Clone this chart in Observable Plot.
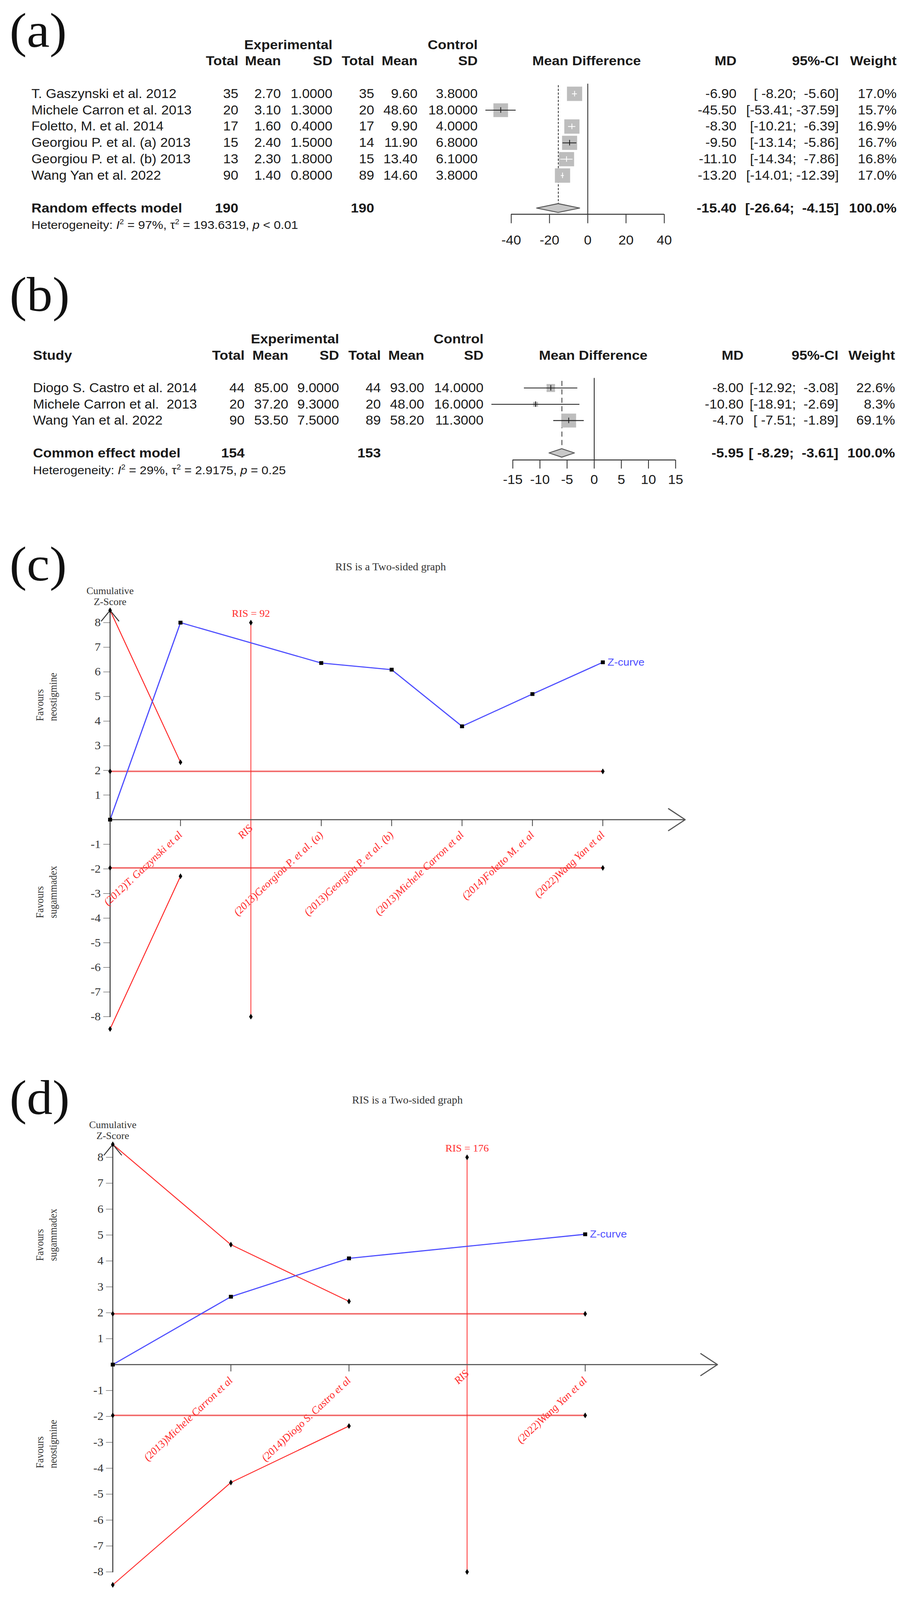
<!DOCTYPE html>
<html><head><meta charset="utf-8">
<script src="https://cdn.jsdelivr.net/npm/d3@7"></script>
<script src="https://cdn.jsdelivr.net/npm/@observablehq/plot@0.6"></script>
<style>
html,body{margin:0;padding:0;background:#fff;overflow:hidden;}
#page{position:relative;width:2336px;height:4357px;background:#fff;transform-origin:0 0;}
svg text{white-space:pre;}
</style></head>
<body><div id="page"></div>
<script>
// ---------------- DATA ----------------
// (a) forest plot
const studiesA = ["T. Gaszynski et al. 2012", "Michele Carron et al. 2013", "Foletto, M. et al. 2014", "Georgiou P. et al. (a) 2013", "Georgiou P. et al. (b) 2013", "Wang Yan et al. 2022"];
const expTotalA = [35, 20, 17, 15, 13, 90];
const expMeanA = [2.70, 3.10, 1.60, 2.40, 2.30, 1.40];
const expSdA = [1.0, 1.3, 0.4, 1.5, 1.8, 0.8];
const ctrlTotalA = [35, 20, 17, 14, 15, 89];
const ctrlMeanA = [9.60, 48.60, 9.90, 11.90, 13.40, 14.60];
const ctrlSdA = [3.8, 18.0, 4.0, 6.8, 6.1, 3.8];
const mdA = [-6.90, -45.50, -8.30, -9.50, -11.10, -13.20];
const ciLowA = [-8.20, -53.41, -10.21, -13.14, -14.34, -14.01];
const ciHighA = [-5.60, -37.59, -6.39, -5.86, -7.86, -12.39];
const weightA = [17.0, 15.7, 16.9, 16.7, 16.8, 17.0];
const modelLabelA = "Random effects model";
const modelTotalsA = [190, 190];
const modelEstA = [-15.40, -26.64, -4.15];   // MD, low, high
const modelWeightA = 100.0;
const hetA = ["97%", "193.6319", "< 0.01"];
const axisTicksA = [-40, -20, 0, 20, 40];

// (b) forest plot
const studiesB = ["Diogo S. Castro et al. 2014", "Michele Carron et al.  2013", "Wang Yan et al. 2022"];
const expTotalB = [44, 20, 90];
const expMeanB = [85.00, 37.20, 53.50];
const expSdB = [9.0, 9.3, 7.5];
const ctrlTotalB = [44, 20, 89];
const ctrlMeanB = [93.00, 48.00, 58.20];
const ctrlSdB = [14.0, 16.0, 11.3];
const mdB = [-8.00, -10.80, -4.70];
const ciLowB = [-12.92, -18.91, -7.51];
const ciHighB = [-3.08, -2.69, -1.89];
const weightB = [22.6, 8.3, 69.1];
const modelLabelB = "Common effect model";
const modelTotalsB = [154, 153];
const modelEstB = [-5.95, -8.29, -3.61];
const modelWeightB = 100.0;
const hetB = ["29%", "2.9175", "= 0.25"];
const axisTicksB = [-15, -10, -5, 0, 5, 10, 15];

const colHeaders = ["Total", "Mean", "SD"];

// (c) TSA
const labelsC = ["(2012)T. Gaszynski et al", "RIS", "(2013)Georgiou P. et al. (a)", "(2013)Georgiou P. et al. (b)", "(2013)Michele Carron et al", "(2014)Foletto M. et al", "(2022)Wang Yan et al"];
const labelPosC = [1, 2, 3, 4, 5, 6, 7];
const zPosC = [0, 1, 3, 4, 5, 6, 7];
const zValC = [0, 8.0, 6.36, 6.09, 3.79, 5.10, 6.39];
const bPosC = [0, 1];
const bUpC = [8.5, 2.33];
const bLoC = [-8.5, -2.3];
const risPosC = 2;
const risLabelC = "RIS = 92";
const convEndC = 7;

// (d) TSA
const labelsD = ["(2013)Michele Carron et al", "(2014)Diogo S. Castro et al", "RIS", "(2022)Wang Yan et al"];
const labelPosD = [1, 2, 3, 4];
const zPosD = [0, 1, 2, 4];
const zValD = [0, 2.62, 4.10, 5.03];
const bPosD = [0, 1, 2];
const bUpD = [8.5, 4.63, 2.44];
const bLoD = [-8.5, -4.55, -2.37];
const risPosD = 3;
const risLabelD = "RIS = 176";
const convEndD = 4;

const yTicksTSA = [-8, -7, -6, -5, -4, -3, -2, -1, 1, 2, 3, 4, 5, 6, 7, 8];
const convZ = 1.96;
const risZ = 8;
const tsaTitle = "RIS is a Two-sided graph";
const cumLabel = "Cumulative\nZ-Score";
const favNeo = "Favours\nneostigmine";
const favSug = "Favours\nsugammadex";
const panelLabels = ["(a)", "(b)", "(c)", "(d)"];

// ---------------- STYLE / LAYOUT ----------------
const W = 2336, H = 4357;
const SANS = "'Liberation Sans', Arial, Helvetica, sans-serif";
const SERIF = "'Liberation Serif', 'Times New Roman', Times, serif";
const INK = "#1a1a1a";
const RED = "#ff2b2b";
const BLUE = "#4d4dff";
const page = document.getElementById("page");
const NS = "http://www.w3.org/2000/svg";

function place(el, top) {
  el.style.position = "absolute"; el.style.left = "0px"; el.style.top = top + "px";
  page.appendChild(el);
}
const pad6 = v => v.toFixed(2).padStart(6, " ");

// text positioned in page pixels (x, baseline) inside a panel's SVG
function pageText(label, px, baseline, top, ML, MT, style) {
  return Plot.text([label], {frameAnchor: "top-left", dx: px - ML, dy: baseline - top - MT,
    lineAnchor: "bottom", text: d => d, ...style});
}
const panelLabelStyle = {fontFamily: SERIF, fontSize: 132, fill: "#111", textAnchor: "start"};
const titleStyle = {fontFamily: SERIF, fontSize: 28, fill: "#333", textAnchor: "middle"};

function hetRich(svg, fs) {
  for (const t of svg.querySelectorAll("text")) {
    const s = t.textContent;
    const m = s.match(/^Heterogeneity: I\^2 = (.*), tau\^2 = (.*), p (.*)$/);
    if (!m) continue;
    const up = Math.round(fs * 0.42);
    t.textContent = "";
    const add = (txt, attrs = {}) => {
      const sp = document.createElementNS(NS, "tspan");
      for (const k in attrs) sp.setAttribute(k, attrs[k]);
      sp.textContent = txt; t.appendChild(sp);
    };
    add("Heterogeneity: ");
    add("I", {"font-style": "italic"});
    add("2", {"font-size": fs * 0.62, dy: -up});
    add(" = " + m[1] + ", \u03C4", {dy: up});
    add("2", {"font-size": fs * 0.62, dy: -up});
    add(" = " + m[2] + ", ", {dy: up});
    add("p", {"font-style": "italic"});
    add(" " + m[3]);
  }
}

function forest(cfg) {
  const n = cfg.studies.length;
  const last = cfg.ticks.length - 1;
  const ML = cfg.xLeft, MR = W - cfg.xRight, MT = cfg.yRange[0];
  const pxPerUnit = (cfg.xRight - cfg.xLeft) / (cfg.ticks[last] - cfg.ticks[0]);
  const maxW = d3.max(cfg.weight);
  const rows = d3.range(n).map(i => ({
    row: i, study: cfg.studies[i], eT: cfg.expTotal[i], eM: cfg.expMean[i], eS: cfg.expSd[i],
    cT: cfg.ctrlTotal[i], cM: cfg.ctrlMean[i], cS: cfg.ctrlSd[i],
    md: cfg.md[i], lo: cfg.lo[i], hi: cfg.hi[i], w: cfg.weight[i]
  }));
  rows.forEach(d => {
    const side = cfg.rMax * Math.sqrt(d.w / maxW) * Math.sqrt(Math.PI);
    d.inside = (d.hi - d.lo) * pxPerUnit < 0.9 * side;
  });
  const base = {fontFamily: SANS, fontSize: 35, fill: INK};
  const bold = {...base, fontSize: 36, fontWeight: "bold"};
  const c = cfg.cols;
  const col = (data, px, anchor, y, text, style) =>
    Plot.text(data, {...style, frameAnchor: "left", dx: px - ML, textAnchor: anchor, y, text});
  const idt = d => d;
  const [mMD, mLo, mHi] = cfg.modelEst;
  const mr = cfg.modelRow, h = cfg.diamondHalf;
  const marks = [
    pageText(cfg.panelLabel, cfg.labelX, cfg.labelBaseline, cfg.top, ML, MT, panelLabelStyle),
    // headers
    col([cfg.expHeader], c.eS, "end", -3, idt, bold),
    col([cfg.ctrlHeader], c.cS, "end", -3, idt, bold),
    col([colHeaders[0]], c.eT, "end", -2, idt, bold),
    col([colHeaders[1]], c.eM, "end", -2, idt, bold),
    col([colHeaders[2]], c.eS, "end", -2, idt, bold),
    col([colHeaders[0]], c.cT, "end", -2, idt, bold),
    col([colHeaders[1]], c.cM, "end", -2, idt, bold),
    col([colHeaders[2]], c.cS, "end", -2, idt, bold),
    col(["Mean Difference"], c.mdHead, "middle", -2, idt, bold),
    col(["MD"], c.md, "end", -2, idt, bold),
    col(["95%-CI"], c.ci, "end", -2, idt, bold),
    col(["Weight"], c.w, "end", -2, idt, bold),
    // study rows
    col(rows, c.name, "start", "row", "study", base),
    col(rows, c.eT, "end", "row", d => String(d.eT), base),
    col(rows, c.eM, "end", "row", d => d.eM.toFixed(2), base),
    col(rows, c.eS, "end", "row", d => d.eS.toFixed(4), base),
    col(rows, c.cT, "end", "row", d => String(d.cT), base),
    col(rows, c.cM, "end", "row", d => d.cM.toFixed(2), base),
    col(rows, c.cS, "end", "row", d => d.cS.toFixed(4), base),
    col(rows, c.md, "end", "row", d => d.md.toFixed(2), base),
    col(rows, c.ci, "end", "row", d => `[${pad6(d.lo)}; ${pad6(d.hi)}]`, base),
    col(rows, c.w, "end", "row", d => d.w.toFixed(1) + "%", base),
    // model row
    col([cfg.modelLabel], c.name, "start", mr, idt, bold),
    col([cfg.modelTotals[0]], c.eT, "end", mr, d => String(d), bold),
    col([cfg.modelTotals[1]], c.cT, "end", mr, d => String(d), bold),
    col([mMD], c.md, "end", mr, d => d.toFixed(2), bold),
    col([[mLo, mHi]], c.ci, "end", mr, d => `[${pad6(d[0])}; ${pad6(d[1])}]`, bold),
    col([cfg.modelWeight], c.w, "end", mr, d => d.toFixed(1) + "%", bold),
    col([cfg.het], c.name, "start", cfg.hetRow, d => `Heterogeneity: I^2 = ${d[0]}, tau^2 = ${d[1]}, p ${d[2]}`, {...base, fontSize: 32}),
    // forest graphics
    Plot.ruleX([0], {y1: cfg.zeroTop, y2: cfg.axisRow, stroke: INK, strokeWidth: 2}),
    Plot.ruleX([mMD], {y1: cfg.dashTop, y2: cfg.dashBottom, stroke: INK, strokeWidth: 1.8, strokeDasharray: cfg.dash}),
    Plot.dot(rows, {x: "md", y: "row", r: "w", symbol: "square", fill: "#bdbdbd"}),
    Plot.ruleY(rows.filter(d => !d.inside), {x1: "lo", x2: "hi", y: "row", stroke: INK, strokeWidth: 2.2}),
    Plot.ruleY(rows.filter(d => d.inside), {x1: "lo", x2: "hi", y: "row", stroke: "white", strokeWidth: 2.2}),
    Plot.ruleX(rows.filter(d => !d.inside), {x: "md", y1: d => d.row - 0.17, y2: d => d.row + 0.17, stroke: INK, strokeWidth: 2}),
    Plot.ruleX(rows.filter(d => d.inside), {x: "md", y1: d => d.row - 0.17, y2: d => d.row + 0.17, stroke: "white", strokeWidth: 2}),
    Plot.areaY([{x: mLo, y1: mr, y2: mr}, {x: mMD, y1: mr - h, y2: mr + h}, {x: mHi, y1: mr, y2: mr}],
      {x: "x", y1: "y1", y2: "y2", fill: "#c8c8c8", stroke: "#555", strokeWidth: 2.5}),
    // axis
    Plot.ruleY([cfg.axisRow], {x1: cfg.ticks[0], x2: cfg.ticks[last], stroke: "#333", strokeWidth: 2.5}),
    Plot.ruleX(cfg.ticks, {x: idt, y1: cfg.axisRow, y2: cfg.axisRow + cfg.tickLen, stroke: "#333", strokeWidth: 2.2}),
    Plot.text(cfg.ticks, {x: idt, y: cfg.tickLabelRow, text: d => String(d), ...base})
  ];
  if (cfg.studyHeader) marks.push(col([cfg.studyHeader], c.name, "start", -2, idt, bold));
  const svg = Plot.plot({
    width: W, height: cfg.height,
    marginLeft: ML, marginRight: MR, marginTop: MT, marginBottom: cfg.height - cfg.yRange[1],
    x: {domain: [cfg.ticks[0], cfg.ticks[last]], axis: null},
    y: {domain: cfg.yDomain, range: cfg.yRange, axis: null},
    r: {type: "sqrt", domain: [0, maxW], range: [0, cfg.rMax]},
    style: {background: "transparent", overflow: "visible"},
    marks
  });
  hetRich(svg, 32);
  place(svg, cfg.top);
}

function tsa(cfg) {
  const ML = cfg.xLeftPx, MR = W - cfg.xEndPx, MT = cfg.yRange[1];
  const zPts = cfg.zPos.map((x, i) => ({x, y: cfg.zVal[i]}));
  const up = cfg.bPos.map((x, i) => ({x, y: cfg.bUp[i]}));
  const lo = cfg.bPos.map((x, i) => ({x, y: cfg.bLo[i]}));
  const diamonds = [...up, ...lo,
    {x: 0, y: convZ}, {x: 0, y: -convZ}, {x: cfg.convEnd, y: convZ}, {x: cfg.convEnd, y: -convZ},
    {x: cfg.risPos, y: risZ}, {x: cfg.risPos, y: -risZ}];
  const labels = cfg.labels.map((t, i) => ({x: cfg.labelPos[i], t, ris: t === "RIS"}));
  const tickPos = labels.filter(d => !d.ris).map(d => d.x);
  const yTop = cfg.bUp[0];
  const yBot = yTicksTSA[0];
  const lastZ = zPts[zPts.length - 1];
  const serif = {fontFamily: SERIF, fill: "#333"};
  const svg = Plot.plot({
    width: W, height: cfg.height,
    marginLeft: ML, marginRight: MR, marginTop: MT, marginBottom: cfg.height - cfg.yRange[0],
    x: {domain: [0, cfg.xEnd], axis: null},
    y: {domain: [yTicksTSA[0], yTicksTSA[yTicksTSA.length - 1]], axis: null},
    style: {background: "transparent", overflow: "visible"},
    marks: [
      pageText(cfg.panelLabel, cfg.labelX, cfg.labelBaseline, cfg.top, ML, MT, panelLabelStyle),
      pageText(tsaTitle, cfg.titleX, cfg.titleBaseline, cfg.top, ML, MT, titleStyle),
      Plot.ruleY([convZ, -convZ], {x1: 0, x2: cfg.convEnd, stroke: "#ee4040", strokeWidth: 4, strokeOpacity: 0.8}),
      Plot.ruleX([cfg.risPos], {y1: -risZ, y2: risZ, stroke: RED, strokeWidth: 2}),
      Plot.line(up, {x: "x", y: "y", stroke: RED, strokeWidth: 2.5}),
      Plot.line(lo, {x: "x", y: "y", stroke: RED, strokeWidth: 2.5}),
      Plot.line(zPts, {x: "x", y: "y", stroke: BLUE, strokeWidth: 3}),
      Plot.arrow([0], {x1: 0, y1: 0, x2: cfg.xEnd, y2: 0, stroke: "#555", strokeWidth: 3, headLength: 26, headAngle: 70}),
      Plot.arrow([0], {x1: 0, y1: yBot, x2: 0, y2: yTop, stroke: "#333", strokeWidth: 2.5, headLength: 22, headAngle: 75}),
      Plot.axisY({ticks: yTicksTSA, anchor: "left", tickSize: 17, tickPadding: 7, tickFormat: d => String(d),
        fontSize: 31, fontFamily: SERIF, label: null, color: "#333"}),
      Plot.ruleX(tickPos, {y1: 0, y2: -0.27, stroke: "#444", strokeWidth: 2}),
      Plot.text(labels, {x: "x", y: d => d.ris ? -0.28 : -0.55, text: "t", rotate: -45, textAnchor: "end",
        fill: RED, fontFamily: SERIF, fontStyle: "italic", fontSize: 28}),
      Plot.text([cfg.risLabel], {x: cfg.risPos, y: risZ, dy: -24, text: d => d, fill: RED, fontFamily: SERIF, fontSize: 27}),
      Plot.text([lastZ], {x: "x", y: "y", dx: 12, text: () => "Z-curve", textAnchor: "start", fill: BLUE, fontFamily: SANS, fontSize: 28}),
      Plot.text([cumLabel], {x: 0, y: yTop, text: d => d, lineAnchor: "bottom", dy: -14, lineHeight: 1.15, fontSize: 26, ...serif}),
      Plot.text([{t: cfg.sideTop, y: cfg.sideY}, {t: cfg.sideBottom, y: -cfg.sideY}],
        {frameAnchor: "left", dx: cfg.sideX - ML, y: "y", text: "t", rotate: -90, lineHeight: 1.25, fontSize: 27, ...serif}),
      Plot.dot(diamonds, {x: "x", y: "y", symbol: "diamond", r: 4.8, fill: "black"}),
      Plot.dot(zPts, {x: "x", y: "y", symbol: "square", r: 5.8, fill: "black"})
    ]
  });
  place(svg, cfg.top);
}

// ---------------- BUILD ----------------
forest({
  top: 0, height: 700, panelLabel: panelLabels[0], labelX: 24, labelBaseline: 127,
  xLeft: 1309, xRight: 1701, ticks: axisTicksA,
  yDomain: [-4, 7.3708], yRange: [77, 583],
  rMax: 22,
  cols: {name: 80, eT: 610, eM: 719, eS: 851, cT: 958, cM: 1069, cS: 1223, md: 1886, ci: 2148, w: 2296, mdHead: 1502},
  expHeader: "Experimental", ctrlHeader: "Control", studyHeader: null,
  studies: studiesA, expTotal: expTotalA, expMean: expMeanA, expSd: expSdA,
  ctrlTotal: ctrlTotalA, ctrlMean: ctrlMeanA, ctrlSd: ctrlSdA,
  md: mdA, lo: ciLowA, hi: ciHighA, weight: weightA,
  modelLabel: modelLabelA, modelTotals: modelTotalsA, modelEst: modelEstA, modelWeight: modelWeightA, het: hetA,
  axisRow: 7.3708, tickLen: 0.56, tickLabelRow: 8.96,
  zeroTop: -0.61, dashTop: -0.52, dashBottom: 6.7, dash: "6,4",
  diamondHalf: 0.27, modelRow: 7, hetRow: 8.03
});

forest({
  top: 700, height: 700, panelLabel: panelLabels[1], labelX: 24, labelBaseline: 846,
  xLeft: 1313, xRight: 1730, ticks: axisTicksB,
  yDomain: [-4, 4.42], yRange: [178.8, 552],
  rMax: 21.4,
  cols: {name: 84, eT: 626, eM: 738, eS: 868, cT: 975, cM: 1086, cS: 1238, md: 1904, ci: 2147, w: 2292, mdHead: 1519},
  expHeader: "Experimental", ctrlHeader: "Control", studyHeader: "Study",
  studies: studiesB, expTotal: expTotalB, expMean: expMeanB, expSd: expSdB,
  ctrlTotal: ctrlTotalB, ctrlMean: ctrlMeanB, ctrlSd: ctrlSdB,
  md: mdB, lo: ciLowB, hi: ciHighB, weight: weightB,
  modelLabel: modelLabelB, modelTotals: modelTotalsB, modelEst: modelEstB, modelWeight: modelWeightB, het: hetB,
  axisRow: 4.42, tickLen: 0.54, tickLabelRow: 5.64,
  zeroTop: -0.61, dashTop: -0.43, dashBottom: 3.7, dash: "14,9",
  diamondHalf: 0.26, modelRow: 4, hetRow: 5.06
});

tsa({
  top: 1400, height: 1500, panelLabel: panelLabels[2], labelX: 24, labelBaseline: 1580,
  titleX: 1000, titleBaseline: 1553,
  xLeftPx: 281.5, xEnd: 8.17, xEndPx: 1754.5, yRange: [1368, 295],
  labels: labelsC, labelPos: labelPosC, zPos: zPosC, zVal: zValC,
  bPos: bPosC, bUp: bUpC, bLo: bLoC, risPos: risPosC, risLabel: risLabelC, convEnd: convEndC,
  sideTop: favNeo, sideBottom: favSug, sideY: 4, sideX: 116.5
});

tsa({
  top: 2900, height: 1457, panelLabel: panelLabels[3], labelX: 24, labelBaseline: 3033,
  titleX: 1043, titleBaseline: 3005,
  xLeftPx: 288.4, xEnd: 5.12, xEndPx: 1837.2, yRange: [1380, 251],
  labels: labelsD, labelPos: labelPosD, zPos: zPosD, zVal: zValD,
  bPos: bPosD, bUp: bUpD, bLo: bLoD, risPos: risPosD, risLabel: risLabelD, convEnd: convEndD,
  sideTop: favSug, sideBottom: favNeo, sideY: 4, sideX: 116.5
});

// the viewport may be shorter than the 4357-px layout: fit the page into it vertically
const fitY = Math.min(1, window.innerHeight / H);
if (fitY < 1) page.style.transform = `scale(1, ${fitY})`;
</script>
</body></html>
